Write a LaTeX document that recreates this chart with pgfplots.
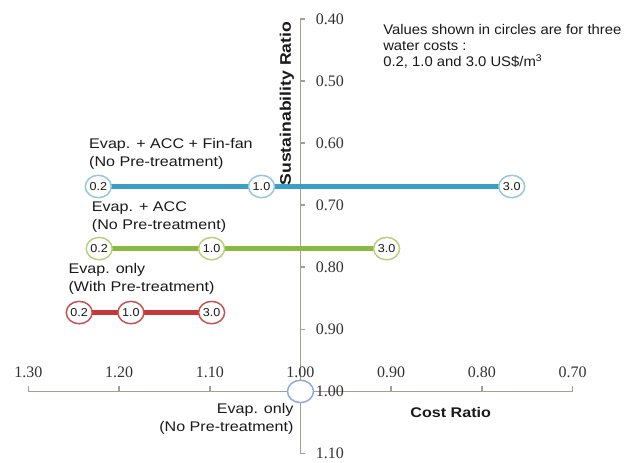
\documentclass[border=0pt]{standalone}
\usepackage{pgfplots}
\pgfplotsset{compat=1.18}
\usepackage{fontspec}
\setmainfont{Liberation Sans}[FakeStretch=1.15]
\newfontfamily\notefont{Liberation Sans}[FakeStretch=1.06]
\newfontfamily\tickfont{Liberation Serif}
\newfontfamily\circfont{Liberation Sans}[FakeStretch=1.1]
\definecolor{axiscol}{HTML}{A89C95}
\definecolor{bline}{HTML}{3A9FC2}
\definecolor{bcirc}{HTML}{94C6DD}
\definecolor{gline}{HTML}{8AB840}
\definecolor{gcirc}{HTML}{B9D07A}
\definecolor{rline}{HTML}{C5383A}
\definecolor{rcirc}{HTML}{C8504D}
\definecolor{ocirc}{HTML}{8EA9DB}
\begin{document}
\begin{tikzpicture}
\begin{axis}[
  scale only axis, width=408pt, height=326pt,
  xmin=0.70, xmax=1.30, ymin=0.40, ymax=1.10,
  x dir=reverse, y dir=reverse,
  hide axis, clip=false,
  circ/.style n args={2}{line width=3.8pt, draw=#1, mark=*, mark size=8.4pt,
     mark options={fill=white, draw=#2, line width=1.1pt, xscale=1.16},
     point meta=explicit symbolic, nodes near coords,
     every node near coord/.style={anchor=center, inner sep=0pt, font=\circfont\fontsize{8.6}{8.6}\selectfont, text=black!90}},
]
% axes
\draw[axiscol, line width=1.1pt] (axis cs:1.30,1.00) -- (axis cs:0.70,1.00);
\draw[axiscol, line width=1.1pt] (axis cs:1.00,0.40) -- (axis cs:1.00,1.10);
\pgfplotsinvokeforeach{1.30,1.20,1.10,1.00,0.90,0.80,0.70}{
  \draw[axiscol, line width=1.1pt] (axis cs:#1,1.00) -- ([yshift=3.75pt]axis cs:#1,1.00);
  \node[font=\tickfont\fontsize{12}{12}\selectfont, text=black!80, inner sep=0pt] at (axis cs:#1,0.9697) {#1};
}
\pgfplotsinvokeforeach{0.40,0.50,0.60,0.70,0.80,0.90,1.00,1.10}{
  \draw[axiscol, line width=1.1pt] (axis cs:1.00,#1) -- ([xshift=3.5pt]axis cs:1.00,#1);
  \node[font=\tickfont\fontsize{12}{12}\selectfont, text=black!80, inner sep=0pt, anchor=west] at ([xshift=11.25pt]axis cs:1.00,#1) {#1};
}
% series
\addplot[circ={bline}{bcirc}] table[meta=lab] {
x y lab
1.223 0.670 0.2
1.043 0.670 1.0
0.767 0.670 3.0
};
\addplot[circ={gline}{gcirc}] table[meta=lab] {
x y lab
1.222 0.770 0.2
1.098 0.770 1.0
0.905 0.770 3.0
};
\addplot[circ={rline}{rcirc}] table[meta=lab] {
x y lab
1.244 0.873 0.2
1.187 0.873 1.0
1.098 0.873 3.0
};
\addplot[only marks, mark=*, mark size=8.4pt, mark options={fill=white, draw=ocirc, line width=1.1pt, xscale=1.16}] coordinates {(1.00,1.00)};
% labels
\node[anchor=north west, align=left, inner sep=0pt, font=\notefont\fontsize{10.5}{12}\selectfont, text=black!90] at (axis cs:0.909,0.4084)
  {Values shown in circles are for three\\water costs :\\0.2, 1.0 and 3.0 US\$/m\textsuperscript{3}};
\node[anchor=north west, align=left, inner sep=0pt, font=\fontsize{10.5}{13.5}\selectfont, text=black!90] at (axis cs:1.2333,0.5925)
  {Evap. + ACC + Fin-fan\\(No Pre-treatment)};
\node[anchor=north west, align=left, inner sep=0pt, font=\fontsize{10.5}{13.5}\selectfont, text=black!90] at (axis cs:1.2303,0.6946)
  {Evap. + ACC\\(No Pre-treatment)};
\node[anchor=north west, align=left, inner sep=0pt, font=\fontsize{10.5}{13.5}\selectfont, text=black!90] at (axis cs:1.256,0.7938)
  {Evap. only\\(With Pre-treatment)};
\node[anchor=north east, align=right, inner sep=0pt, font=\fontsize{10.5}{13.5}\selectfont, text=black!90] at (axis cs:1.0074,1.0188)
  {Evap. only\\(No Pre-treatment)};
\node[inner sep=0pt, font=\bfseries\fontsize{10.5}{12}\selectfont, text=black!90] at (axis cs:0.8343,1.0344) {Cost Ratio};
\node[inner sep=0pt, rotate=90, font=\bfseries\fontsize{11.5}{12}\selectfont, text=black!90] at (axis cs:1.0149,0.5364) {Sustainability Ratio};
\coordinate (bl) at (axis cs:1.3314,1.1145);
\coordinate (tr) at (axis cs:0.6355,0.3697);
\end{axis}
\pgfresetboundingbox
\path[use as bounding box] (bl) rectangle (tr);
\end{tikzpicture}
\end{document}
